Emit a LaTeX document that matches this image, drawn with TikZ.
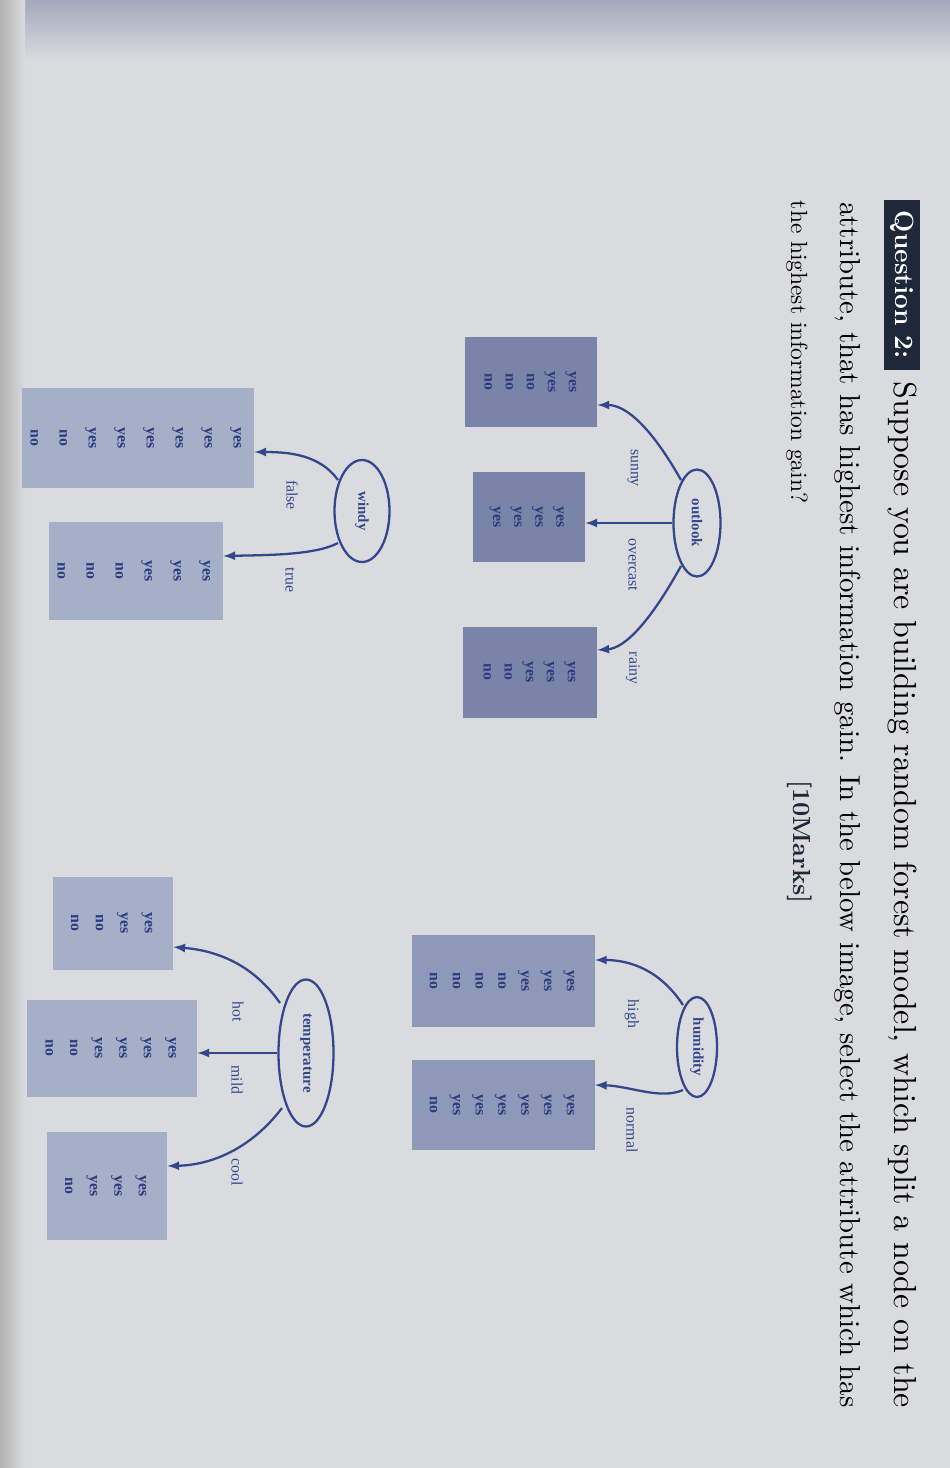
\documentclass[tikz,border=0pt]{standalone}
\usepackage{fontspec}
\newfontfamily\tfont{Liberation Serif}
\usetikzlibrary{shapes.geometric}
\definecolor{bg}{HTML}{DADBDE}
\definecolor{edgeblue}{HTML}{34478C}
\definecolor{leafdark}{HTML}{7A84A8}
\definecolor{leafmid}{HTML}{8E98B8}
\definecolor{leaflight}{HTML}{A6AFC8}
\definecolor{leaftext}{HTML}{2C3B7E}
\definecolor{qbox}{HTML}{1E2838}
\definecolor{topband}{HTML}{A3A8BC}
\tikzset{
  leafbox/.style={draw=none,rectangle,inner sep=0pt,text=leaftext,font=\tfont\bfseries\fontsize{9}{10}\selectfont},
  attr/.style={draw=edgeblue,line width=1.3pt,ellipse,fill=bg,inner sep=0pt,text=edgeblue,font=\tfont\bfseries\fontsize{8.5}{9}\selectfont},
  elabel/.style={text=edgeblue,font=\tfont\fontsize{9}{10}\selectfont,inner sep=0pt},
  conn/.style={draw=edgeblue,line width=1.3pt,-latex}
}
\newcommand{\lv}[2]{\rotatebox{-90}{\renewcommand{\arraystretch}{#1}\begin{tabular}{@{}c@{}}#2\end{tabular}}}
\begin{document}
\begin{tikzpicture}[x=0.02cm,y=-0.02cm]
\useasboundingbox (0,0) rectangle (950,1468);
\fill[bg] (0,0) rectangle (950,1468);
\shade[top color=topband,bottom color=bg] (0,0) rectangle (950,60);
\shade[left color=gray!60,right color=bg] (0,0) rectangle (25,1468);
% question text
\node[fill=qbox,minimum width=36*0.02cm,minimum height=170*0.02cm,inner sep=0pt] (q) at (902,285) {};
\node[text=white,font=\fontsize{15}{15}\selectfont\bfseries] (qt) at (q) {\rotatebox{-90}{Question 2:}};
\node[inner sep=0pt] (l1) at (902,895) {\rotatebox{-90}{\resizebox{584pt}{!}{Suppose you are building random forest model, which split a node on the}}};
\node[inner sep=0pt] (l2) at (848,805) {\rotatebox{-90}{\resizebox{686pt}{!}{attribute, that has highest information gain. In the below image, select the attribute which has}}};
\node[inner sep=0pt] (l3) at (797,352) {\rotatebox{-90}{\resizebox{172pt}{!}{the highest information gain?}}};
\node[inner sep=0pt,text=qbox] (mk) at (800,842) {\rotatebox{-90}{\resizebox{70pt}{!}{\bfseries[10Marks]}}};
% outlook tree
\node[attr,minimum width=47*0.02cm,minimum height=107*0.02cm] (outlook) at (697,523) {\rotatebox{-90}{outlook}};
\node[leafbox,fill=leafdark,minimum width=132*0.02cm,minimum height=90*0.02cm] (sunny) at (531,382) {\lv{1.2}{yes\\yes\\no\\no\\no}};
\node[leafbox,fill=leafdark,minimum width=112*0.02cm,minimum height=90*0.02cm] (overcast) at (529,517) {\lv{1.2}{yes\\yes\\yes\\yes}};
\node[leafbox,fill=leafdark,minimum width=134*0.02cm,minimum height=91*0.02cm] (rainy) at (530,672) {\lv{1.2}{yes\\yes\\yes\\no\\no}};
\draw[conn] (681,480) .. controls (650,425) and (625,405) .. (sunny.east |- 0,405);
\draw[conn] (outlook.west) -- (overcast.east |- outlook.west);
\draw[conn] (681,566) .. controls (650,622) and (625,648) .. (rainy.east |- 0,650);
\node[elabel] (ls) at (633,468) {\rotatebox{-90}{sunny}};
\node[elabel] (lo) at (633,565) {\rotatebox{-90}{overcast}};
\node[elabel] (lr) at (633,668) {\rotatebox{-90}{rainy}};
% humidity tree
\node[attr,minimum width=40*0.02cm,minimum height=100*0.02cm] (humidity) at (697,1047) {\rotatebox{-90}{humidity}};
\node[leafbox,fill=leafmid,minimum width=183*0.02cm,minimum height=92*0.02cm] (high) at (503,981) {\lv{1.3}{yes\\yes\\yes\\no\\no\\no\\no}};
\node[leafbox,fill=leafmid,minimum width=183*0.02cm,minimum height=90*0.02cm] (normal) at (503,1105) {\lv{1.3}{yes\\yes\\yes\\yes\\yes\\yes\\no}};
\draw[conn] (683,1005) .. controls (660,970) and (630,960) .. (high.east |- 0,960);
\draw[conn] (683,1090) .. controls (660,1100) and (630,1086) .. (normal.east |- 0,1085);
\node[elabel] (lh) at (632,1014) {\rotatebox{-90}{high}};
\node[elabel] (ln) at (632,1130) {\rotatebox{-90}{normal}};
% windy tree
\node[attr,minimum width=55*0.02cm,minimum height=102*0.02cm] (windy) at (362,511) {\rotatebox{-90}{windy}};
\node[leafbox,fill=leaflight,minimum width=227*0.02cm,minimum height=100*0.02cm] (false) at (138,438) {\lv{1.65}{yes\\yes\\yes\\yes\\yes\\yes\\no\\no}};
\node[leafbox,fill=leaflight,minimum width=173*0.02cm,minimum height=98*0.02cm] (true) at (136,571) {\lv{1.65}{yes\\yes\\yes\\no\\no\\no}};
\draw[conn] (338,480) .. controls (320,455) and (290,452) .. (false.east |- 0,452);
\draw[conn] (338,543) .. controls (315,555) and (270,555) .. (true.east |- 0,556);
\node[elabel] (lf) at (292,495) {\rotatebox{-90}{false}};
\node[elabel] (lt) at (290,580) {\rotatebox{-90}{true}};
% temperature tree
\node[attr,minimum width=55*0.02cm,minimum height=147*0.02cm] (temp) at (306,1053) {\rotatebox{-90}{temperature}};
\node[leafbox,fill=leaflight,minimum width=120*0.02cm,minimum height=93*0.02cm] (hot) at (113,923) {\lv{1.4}{yes\\yes\\no\\no}};
\node[leafbox,fill=leaflight,minimum width=170*0.02cm,minimum height=97*0.02cm] (mild) at (112,1048) {\lv{1.4}{yes\\yes\\yes\\yes\\no\\no}};
\node[leafbox,fill=leaflight,minimum width=120*0.02cm,minimum height=108*0.02cm] (cool) at (107,1186) {\lv{1.4}{yes\\yes\\yes\\no}};
\draw[conn] (280,1003) .. controls (250,960) and (210,950) .. (hot.east |- 0,947);
\draw[conn] (temp.west) -- (mild.east |- temp.west);
\draw[conn] (282,1108) .. controls (250,1150) and (210,1165) .. (cool.east |- 0,1166);
\node[elabel] (lho) at (238,1012) {\rotatebox{-90}{hot}};
\node[elabel] (lm) at (237,1080) {\rotatebox{-90}{mild}};
\node[elabel] (lc) at (237,1172) {\rotatebox{-90}{cool}};
\end{tikzpicture}
\end{document}
